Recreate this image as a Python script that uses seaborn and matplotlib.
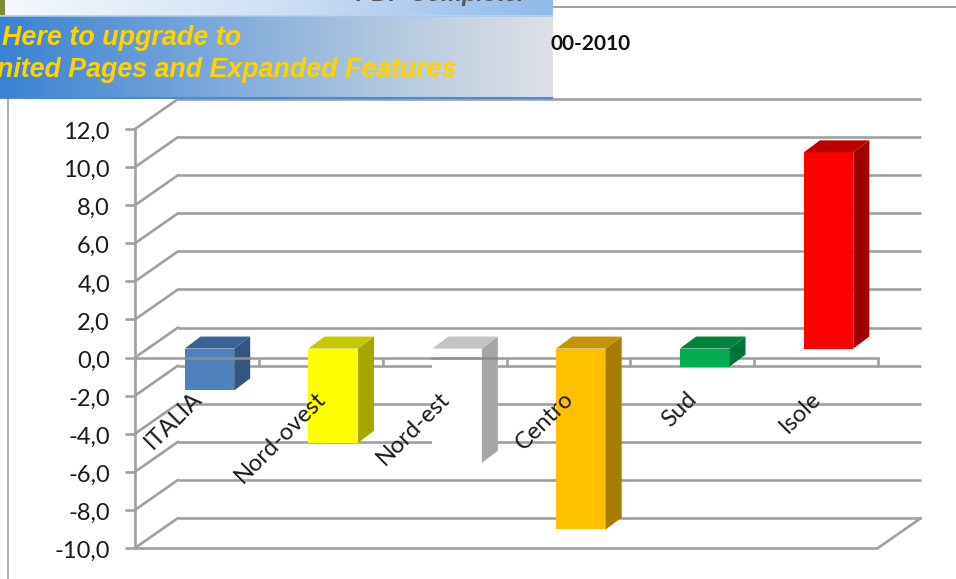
import numpy as np
import pandas as pd
import matplotlib
matplotlib.use('Agg')
import matplotlib.pyplot as plt
import seaborn as sns
from matplotlib.colors import LinearSegmentedColormap
from matplotlib.patches import Polygon
from matplotlib.transforms import Affine2D

categories = ['ITALIA', 'Nord-ovest', 'Nord-est', 'Centro', 'Sud', 'Isole']
values = [-2.2, -4.95, -6.0, -9.5, -0.95, 10.3]
front_colors = ['#4F81BD', '#FFFF00', '#FFFFFF', '#FFC000', '#00B050', '#FF0000']
top_colors = ['#3A6296', '#C8C800', '#C4C4C4', '#C59500', '#00843C', '#C00000']
side_colors = ['#34557F', '#A5A500', '#A6A6A6', '#A67C00', '#00733A', '#A00000']
y_ticks = [12, 10, 8, 6, 4, 2, 0, -2, -4, -6, -8, -10]
y_labels = ['12,0', '10,0', '8,0', '6,0', '4,0', '2,0', '0,0', '-2,0', '-4,0', '-6,0', '-8,0', '-10,0']

W, H = 956, 579
GRID = '#A0A0A0'
LW = 1.9
sns.set_theme(style='white')
plt.rcParams['font.family'] = ['Lato', 'DejaVu Sans']

fig = plt.figure(figsize=(W / 100, H / 100), dpi=100)
fig.patch.set_facecolor('white')
# assi frontali del grafico "3D"
ax = fig.add_axes([135 / W, 1 - 548 / H, (878 - 135) / W, (548 - 129) / H])
df = pd.DataFrame({'area': categories, 'valore': values})
sns.barplot(data=df, x='area', y='valore', hue='area', palette=front_colors,
            legend=False, width=0.4, saturation=1, ax=ax, zorder=1)
ax.set_xlim(-0.5, 5.5)
ax.set_ylim(-10, 12)
ax.set_xlabel('')
ax.set_ylabel('')
ax.patch.set_alpha(0)

px_x = 6 / (878 - 135)
px_y = 22 / (548 - 129)


def shifted(dx, dy):
    return ax.transData + Affine2D().translate(dx, dy)


# pareti di fondo: griglia spostata in profondita
back = shifted(43, 30)
ax.hlines(y_ticks, -0.5, 5.5, color=GRID, lw=LW, transform=back, clip_on=False, zorder=0.2)
for t in y_ticks:
    ax.plot([-0.5, -0.5 + 43 * px_x], [t, t + 30 * px_y], color=GRID, lw=LW, clip_on=False, zorder=0.2)
ax.plot([5.5, 5.5 + 43 * px_x], [-10, -10 + 30 * px_y], color=GRID, lw=LW, clip_on=False, zorder=0.2)

# barre: faccia frontale + lato + tetto
bar_move = shifted(12.5, 9)
depth_x, depth_y = 16 * px_x, 12 * px_y
for i, patch in enumerate(ax.patches):
    patch.set_transform(bar_move)
    patch.set_clip_on(False)
    patch.set_linewidth(0)
    left = patch.get_x()
    right = left + patch.get_width()
    high = max(0, values[i])
    low = min(0, values[i])
    side = Polygon([(right, high), (right + depth_x, high + depth_y),
                    (right + depth_x, low + depth_y), (right, low)],
                   closed=True, fc=side_colors[i], ec='none', transform=bar_move, clip_on=False, zorder=1)
    top = Polygon([(left, high), (left + depth_x, high + depth_y),
                   (right + depth_x, high + depth_y), (right, high)],
                  closed=True, fc=top_colors[i], ec='none', transform=bar_move, clip_on=False, zorder=1)
    ax.add_patch(side)
    ax.add_patch(top)

# assi
sns.despine(ax=ax, top=True, right=True)
ax.spines['left'].set_color(GRID)
ax.spines['left'].set_linewidth(LW)
ax.spines['bottom'].set_color(GRID)
ax.spines['bottom'].set_linewidth(LW)
ax.spines['bottom'].set_position(('data', 0))
ax.spines['bottom'].set_zorder(0.6)
ax.hlines(-10, -0.5, 5.5, color=GRID, lw=LW, zorder=0.6, clip_on=False)
# la linea dello zero resta visibile su ITALIA e Nord-est
for i in [0, 2]:
    ax.axhline(0, xmin=(i + 0.4) / 6, xmax=(i + 0.92) / 6, color='#8C8C8C', lw=LW, zorder=6)

ax.set_yticks(y_ticks)
ax.set_yticklabels(y_labels, fontsize=17, color='#1a1a1a')
ax.tick_params(axis='y', left=True, length=7, width=LW, color=GRID, pad=11)
for label in ax.get_yticklabels():
    label.set_transform(label.get_transform() + Affine2D().translate(0, -1.5))
ax.set_xticks(range(len(categories)))
ax.set_xticklabels(categories, rotation=45, ha='right', va='top', rotation_mode='anchor',
                   fontsize=17, color='#1a1a1a')
ax.set_xticks(np.arange(-0.5, 6), minor=True)
ax.tick_params(axis='x', which='major', bottom=False, length=0, pad=22)
ax.tick_params(axis='x', which='minor', bottom=True, length=6, width=LW, color=GRID)
ax.xaxis.set_zorder(3)
for label in ax.get_xticklabels():
    label.set_transform(label.get_transform() + Affine2D().translate(-6, 0))

# cornice, titolo e banner sopra il grafico (coordinate in pixel)
over = fig.add_axes([0, 0, 1, 1], zorder=5)
over.patch.set_alpha(0)
over.axis('off')
strip = LinearSegmentedColormap.from_list('strip', ['#F6F9FD', '#CFE0F5', '#8FBAEA'])
band = LinearSegmentedColormap.from_list('band', [(0, '#3A82D2'), (0.4, '#7FAADB'), (0.72, '#B5CAE0'), (1, '#DEE1E6')])
ramp = np.linspace(0, 1, 256).reshape(1, -1)
over.imshow(ramp, cmap=strip, extent=(0, 553, 15, 0), aspect='auto', zorder=1)
over.imshow(ramp, cmap=band, extent=(0, 553, 98, 16), aspect='auto', zorder=1)
over.set_xlim(0, W)
over.set_ylim(H, 0)
over.fill_between([0, 5], 0, 15, color='#7E8B3A', lw=0, zorder=2)
over.hlines(98, 0, 553, color='#4A8AD4', lw=1.5, zorder=2)
over.hlines(15.5, 0, 553, color='#A9C8EC', lw=1.2, zorder=2)
over.hlines(7, 553, W, color='#9A9A9A', lw=1.3, zorder=2)
over.vlines(8, 99, H, color='#A8A8A8', lw=1.3, zorder=2)
banner_font = ['Liberation Sans', 'DejaVu Sans']
over.text(2, 38, 'Here to upgrade to', color='#FFD200', fontsize=19.4, style='italic', weight='bold',
          family=banner_font, va='center', zorder=3)
over.text(-3, 70, 'nited Pages and Expanded Features', color='#FFD200', fontsize=19.3, style='italic',
          weight='bold', family=banner_font, va='center', zorder=3)
over.text(356, -5, 'PDF Complete.', color='#555555', fontsize=17, style='italic', weight='bold',
          family=banner_font, va='center', zorder=3, clip_on=True)
over.text(551, 44, '00-2010', color='#111111', fontsize=15, weight='bold', va='center', zorder=3)

fig.savefig('out.png', dpi=100)
